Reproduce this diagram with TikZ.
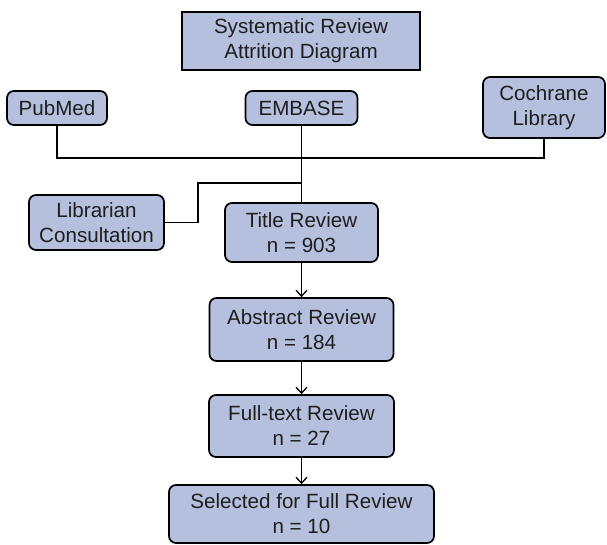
\documentclass[tikz,border=0pt]{standalone}
\usepackage{fontspec}
\setmainfont{Liberation Sans}
\usetikzlibrary{arrows.meta}
\definecolor{boxfill}{HTML}{B4C0DD}
\definecolor{txt}{HTML}{1E1E1E}
\tikzset{
  base/.style={draw=black, fill=boxfill, line width=1.7pt, inner sep=0pt, align=center,
    text=txt, font=\fontsize{20.6}{25}\selectfont},
  rbox/.style={base, rounded corners=7pt},
  sbox/.style={base},
  conn/.style={draw=black, line width=1.3pt},
  arr/.style={conn, -{Straight Barb[length=6pt,width=11pt,line width=1.3pt]}}
}
\begin{document}
\begin{tikzpicture}[x=1pt,y=-1pt]
\useasboundingbox (0,0) rectangle (607,544);
\node[sbox, minimum width=238pt, minimum height=58pt] (title) at (301,41) {Systematic Review\\Attrition Diagram};
\node[rbox, minimum width=100pt, minimum height=34pt] (pubmed) at (57,108) {PubMed};
\node[rbox, minimum width=112pt, minimum height=34pt] (embase) at (301.5,108) {EMBASE};
\node[rbox, minimum width=122pt, minimum height=61pt] (cochrane) at (544,107.5) {Cochrane\\Library};
\node[rbox, minimum width=135pt, minimum height=55pt] (librarian) at (96.5,222.5) {Librarian\\Consultation};
\node[rbox, minimum width=153pt, minimum height=59pt] (titlerev) at (301.5,232.5) {Title Review\\n = 903};
\node[rbox, minimum width=184pt, minimum height=63pt] (abstract) at (301.5,329.5) {Abstract Review\\n = 184};
\node[rbox, minimum width=185pt, minimum height=62pt] (fulltext) at (301.5,426) {Full-text Review\\n = 27};
\node[rbox, minimum width=265pt, minimum height=58pt] (selected) at (301.5,514) {Selected for Full Review\\n = 10};
\coordinate (j1) at (301.5,158);
\coordinate (j2) at (301.5,183);
\coordinate (k) at (198,183);
\draw[conn] (pubmed.south) |- (j1) -| (cochrane.south);
\draw[conn] (embase.south) -- (titlerev.north);
\draw[conn] (librarian.east) -| (k) -- (j2);
\draw[arr] (titlerev.south) -- (abstract.north);
\draw[arr] (abstract.south) -- (fulltext.north);
\draw[arr] (fulltext.south) -- (selected.north);
\end{tikzpicture}
\end{document}
